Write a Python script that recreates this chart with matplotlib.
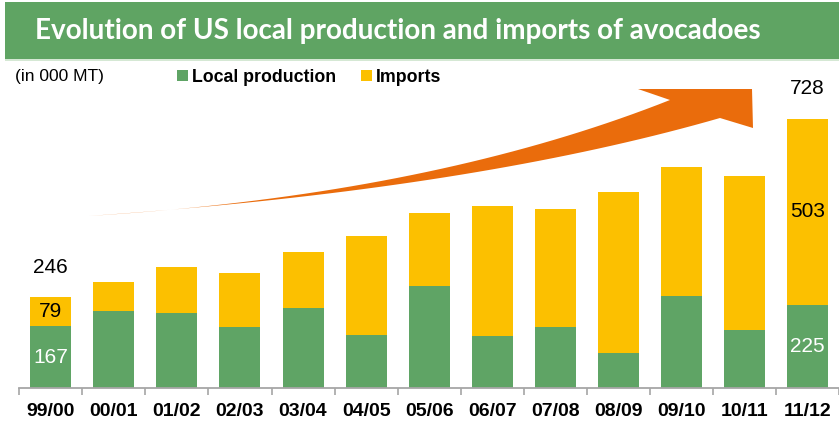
import matplotlib
matplotlib.use('Agg')
import matplotlib.pyplot as plt
from matplotlib.patches import Rectangle, Polygon
import numpy as np

# data (000 MT)
seasons = ['99/00', '00/01', '01/02', '02/03', '03/04', '04/05', '05/06',
           '06/07', '07/08', '08/09', '09/10', '10/11', '11/12']
local = [167, 209, 204, 164, 217, 143, 275, 140, 165, 95, 248, 156, 225]
imports = [79, 78, 124, 146, 150, 269, 197, 352, 318, 436, 349, 418, 503]

GREEN = '#5FA465'
YELLOW = '#FCC000'
ORANGE = '#EA6C0C'
BANNER = '#5FA463'

W, H = 839, 425
fig = plt.figure(figsize=(W / 100, H / 100), dpi=100)

def fx(px):
    return px / W

def fy(py):
    return 1 - py / H

# title banner
fig.patches.append(Rectangle((fx(5), fy(59)), fx(834), 57 / H, transform=fig.transFigure,
                             facecolor=BANNER, edgecolor='none'))
fig.patches.append(Rectangle((fx(5), fy(61)), fx(834), 1.5 / H, transform=fig.transFigure,
                             facecolor='#D5E8D4', edgecolor='none'))
title = fig.text(fx(35), fy(31), 'Evolution of US local production and imports of avocadoes',
                 color='white', fontsize=22, fontweight='bold', va='center', ha='left',
                 family=['Lato', 'DejaVu Sans'])
# shrink the title so it spans the same width as in the original banner
rend = fig.canvas.get_renderer()
tw = title.get_window_extent(renderer=rend).width
title.set_fontsize(22 * 727 / tw)

fig.text(fx(15), fy(77), '(in 000 MT)', fontsize=12.5, va='center', ha='left',
         family=['Liberation Sans', 'DejaVu Sans'])

# main axes
ax = fig.add_axes([fx(19.3), 37 / H, 1 - fx(19.3), 288 / H])
x = np.arange(len(seasons))
b1 = ax.bar(x, local, width=0.65, color=GREEN, label='Local production', zorder=2)
b2 = ax.bar(x, imports, width=0.65, bottom=local, color=YELLOW, label='Imports', zorder=2)
ax.set_xlim(-0.5, len(seasons) - 0.5)
ax.set_ylim(0, 778.5)

for s in ['top', 'right', 'left']:
    ax.spines[s].set_visible(False)
ax.spines['bottom'].set_color('#A6A6A6')
ax.spines['bottom'].set_linewidth(1.3)
ax.set_yticks([])
ax.set_xticks(x)
ax.set_xticklabels(seasons, fontsize=14, fontweight='bold',
                   family=['Liberation Sans', 'DejaVu Sans'])
ax.tick_params(axis='x', which='major', length=0, pad=11)
ax.set_xticks(np.arange(-0.5, len(seasons)), minor=True)
ax.tick_params(axis='x', which='minor', length=5, width=1.2, color='#A6A6A6', direction='out')

# value labels on first and last bar
numfont = dict(fontsize=15, family=['Liberation Sans', 'DejaVu Sans'], ha='center', va='center')
for i in [0, len(seasons) - 1]:
    total = local[i] + imports[i]
    ax.text(x[i], local[i] / 2, str(local[i]), color='white', **numfont)
    ax.text(x[i], local[i] + imports[i] / 2, str(imports[i]), color='black', **numfont)
    ax.annotate(str(total), (x[i], total), xytext=(0, 21.5), textcoords='offset points',
                color='black', annotation_clip=False, **numfont)

# legend
fig.legend(handles=[b1, b2], loc='center left', bbox_to_anchor=(fx(177), fy(77)),
           ncol=2, frameon=False, handlelength=0.6, handleheight=0.6,
           handletextpad=0.25, columnspacing=1.4, borderpad=0, borderaxespad=0,
           prop={'weight': 'bold', 'size': 12.8, 'family': ['Liberation Sans', 'DejaVu Sans']})

# growth arrow (decoration, pixel space)
def bez(p0, c, p2, n=40):
    t = np.linspace(0, 1, n)[:, None]
    return (1 - t) ** 2 * np.array(p0) + 2 * (1 - t) * t * np.array(c) + t ** 2 * np.array(p2)

upper = bez((88, 216), (430, 195), (670, 100))
lower = bez((88, 216), (470, 190), (720, 118))
head = np.array([(670, 100), (638, 89), (752, 89), (753, 128), (720, 118)])
pts = np.vstack([upper, head, lower[::-1]])
pts_fig = np.column_stack([pts[:, 0] / W, 1 - pts[:, 1] / H])
fig.patches.append(Polygon(pts_fig, closed=True, transform=fig.transFigure,
                           facecolor=ORANGE, edgecolor='none', zorder=5))

fig.savefig('out.png', dpi=100)
